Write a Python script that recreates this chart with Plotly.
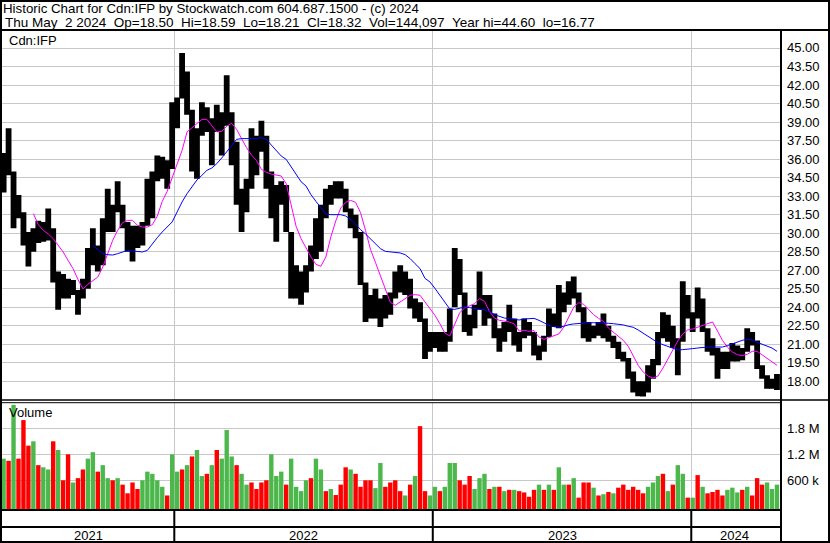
import pandas as pd
import plotly.graph_objects as go

# ---- weekly data (mid-week date of each trading week) ----
WEEKS = pd.date_range("2021-05-05", periods=157, freq="7D")

HIGH = [
    36.5, 38.5, 35.0, 33.1, 31.7, 30.1, 30.4, 31.0, 30.9, 32.0,
    30.4, 26.9, 26.7, 26.3, 26.2, 25.4, 26.3, 28.8, 30.4, 29.0,
    31.2, 33.6, 32.3, 34.2, 32.3, 30.9, 30.6, 30.6, 30.9, 34.4,
    35.0, 36.3, 36.2, 35.9, 40.6, 41.0, 44.6, 43.1, 40.0, 38.5,
    40.6, 40.2, 39.3, 40.4, 39.8, 42.8, 39.8, 37.4, 33.6, 34.4,
    38.5, 37.9, 39.1, 37.9, 35.0, 33.9, 34.2, 33.9, 30.1, 27.4,
    26.9, 27.4, 29.0, 31.2, 32.3, 33.6, 33.9, 34.2, 34.2, 33.6,
    32.0, 31.5, 30.1, 26.0, 25.0, 25.5, 24.7, 25.0, 25.2, 26.9,
    27.4, 26.9, 26.3, 24.7, 24.4, 23.1, 22.0, 22.0, 22.0, 22.0,
    23.9, 28.8, 27.9, 25.2, 23.4, 24.2, 26.9, 25.0, 25.0, 23.5,
    22.3, 22.8, 24.2, 23.1, 22.0, 23.1, 22.8, 22.0, 20.9, 21.7,
    23.9, 23.5, 25.8, 25.2, 26.1, 26.5, 25.2, 24.0, 22.8, 22.5,
    22.8, 23.5, 22.5, 21.7, 21.2, 20.4, 19.9, 18.8, 18.0, 18.0,
    19.3, 19.8, 22.0, 23.6, 23.4, 22.5, 21.5, 26.1, 25.0, 23.6,
    25.6, 24.7, 22.3, 21.5, 20.7, 20.4, 20.4, 21.1, 20.9, 20.7,
    22.3, 22.0, 21.3, 19.3, 18.5, 18.2, 18.59,
]

LOW = [
    33.3, 34.7, 30.4, 31.2, 29.0, 27.3, 28.5, 29.2, 29.3, 29.4,
    26.0, 23.8, 24.7, 24.7, 25.0, 23.4, 24.7, 25.5, 27.4, 26.9,
    27.4, 30.1, 30.1, 31.7, 30.4, 28.5, 27.7, 28.8, 29.0, 30.6,
    31.2, 34.2, 34.4, 33.6, 35.2, 38.5, 40.9, 39.6, 35.0, 34.4,
    37.9, 38.2, 35.5, 38.2, 36.3, 38.7, 35.5, 32.3, 30.1, 31.7,
    33.6, 34.7, 36.6, 33.6, 31.2, 29.3, 32.3, 30.1, 24.7, 24.7,
    24.2, 25.2, 26.9, 27.9, 28.5, 31.2, 32.3, 32.8, 32.8, 31.7,
    30.4, 29.6, 25.8, 22.8, 23.1, 23.1, 22.4, 23.1, 23.4, 24.7,
    25.2, 25.0, 23.9, 23.1, 22.8, 19.8, 20.4, 20.7, 20.4, 20.4,
    21.2, 24.0, 25.0, 22.0, 21.7, 22.3, 23.8, 22.5, 23.1, 21.5,
    20.4, 21.2, 22.0, 20.9, 20.4, 21.5, 21.7, 20.1, 19.7, 20.4,
    21.6, 22.4, 22.3, 23.6, 24.2, 24.7, 23.6, 21.5, 21.2, 21.5,
    21.7, 21.5, 21.2, 20.7, 19.8, 19.6, 18.2, 17.1, 16.8, 16.77,
    17.1, 18.2, 19.3, 21.5, 21.2, 20.7, 18.5, 21.2, 23.1, 22.0,
    23.1, 22.0, 20.4, 20.1, 18.2, 19.0, 19.0, 19.6, 19.6, 19.7,
    20.4, 20.9, 19.0, 18.2, 17.4, 17.4, 17.3,
]

# short (magenta) and long (blue) moving averages
MA_FAST = [None] * 6 + [
    31.58, 30.69, 30.23, 29.94, 29.56, 29.02, 28.48, 27.80, 27.13, 26.26,
    25.48, 25.86, 26.16, 26.45, 27.26, 28.34, 29.42, 30.23, 30.85, 31.04,
    31.04, 30.64, 30.50, 30.50, 30.69, 31.39, 32.58, 33.39, 34.50, 35.58,
    36.71, 38.20, 38.55, 38.82, 39.22, 39.22, 38.66, 38.20, 38.25, 38.66,
    38.90, 38.41, 37.66, 36.93, 36.33, 35.90, 35.17, 34.93, 34.79, 34.69,
    34.63, 34.01, 32.26, 30.56, 29.56, 28.83, 28.07, 27.48, 27.32, 28.07,
    29.69, 30.99, 32.04, 32.50, 32.66, 32.50, 31.66, 30.23, 28.69, 27.64,
    26.59, 25.45, 24.40, 24.16, 24.43, 24.70, 24.97, 25.02, 24.97, 24.43,
    23.89, 23.35, 22.67, 21.92, 21.67, 22.59, 23.56, 23.94, 24.10, 24.29,
    24.70, 24.48, 23.67, 23.13, 22.94, 22.86, 22.81, 22.65, 22.08, 22.13,
    22.05, 22.11, 21.59, 21.40, 21.54, 21.73, 21.84, 22.40, 23.16, 24.00,
    24.37, 24.24, 23.83, 23.40, 23.10, 22.86, 22.32, 22.00, 21.67, 21.32,
    20.84, 20.05, 19.30, 18.76, 18.43, 18.27, 18.43, 19.08, 19.84, 20.59,
    21.27, 21.84, 22.16, 22.24, 22.38, 22.51, 22.67, 22.81, 22.08, 21.32,
    20.78, 20.38, 20.16, 20.08, 20.19, 20.43, 20.43, 20.14, 19.86, 19.60,
    19.30,
]

MA_SLOW = [None] * 18 + [
    29.02, 28.69, 28.34, 28.26, 28.23, 28.34, 28.48, 28.61, 28.56, 28.50,
    28.48, 28.61, 29.15, 29.64, 30.10, 30.53, 30.91, 31.72, 32.53, 33.20,
    33.74, 34.31, 34.69, 35.09, 35.28, 35.63, 36.09, 36.58, 37.12, 37.60,
    37.66, 37.66, 37.66, 37.66, 37.74, 37.60, 37.14, 36.66, 36.25, 35.98,
    35.39, 34.74, 34.17, 33.82, 33.12, 32.58, 32.04, 31.55, 31.50, 31.50,
    31.50, 31.39, 31.12, 30.74, 30.29, 29.94, 29.53, 29.13, 28.75, 28.53,
    28.48, 28.42, 28.40, 28.26, 27.94, 27.53, 27.13, 26.34, 26.05, 25.53,
    25.00, 24.46, 23.86, 23.83, 23.94, 24.02, 23.97, 23.89, 23.83, 23.81,
    23.67, 23.40, 23.27, 23.13, 23.08, 23.00, 22.97, 23.05, 23.10, 23.10,
    22.94, 22.75, 22.54, 22.43, 22.38, 22.46, 22.59, 22.65, 22.70, 22.73,
    22.75, 22.75, 22.75, 22.73, 22.70, 22.67, 22.65, 22.57, 22.46, 22.38,
    22.16, 21.92, 21.65, 21.40, 21.13, 20.97, 20.81, 20.65, 20.54, 20.57,
    20.59, 20.65, 20.70, 20.76, 20.78, 20.78, 20.78, 20.78, 20.89, 21.05,
    21.19, 21.32, 21.40, 21.35, 21.16, 21.00, 20.86, 20.70, 20.43,
]

# typical daily volume within each week (shares)
VOLUME = [
    1.10e6, 1.05e6, 2.34e6, 1.10e6, 1.99e6, 1.40e6, 1.50e6, 0.95e6, 0.90e6, 0.85e6,
    1.50e6, 1.30e6, 0.60e6, 1.20e6, 0.55e6, 0.65e6, 0.85e6, 1.10e6, 1.25e6, 0.80e6,
    0.95e6, 0.65e6, 0.60e6, 0.65e6, 0.50e6, 0.30e6, 0.55e6, 0.40e6, 0.60e6, 0.80e6,
    0.75e6, 0.60e6, 0.45e6, 0.25e6, 1.20e6, 0.80e6, 0.85e6, 0.95e6, 1.15e6, 1.30e6,
    0.70e6, 0.75e6, 0.95e6, 1.30e6, 1.10e6, 1.76e6, 1.15e6, 0.95e6, 0.75e6, 0.50e6,
    0.55e6, 0.40e6, 0.55e6, 0.60e6, 1.20e6, 0.70e6, 0.80e6, 0.50e6, 1.10e6, 0.45e6,
    0.35e6, 0.60e6, 0.65e6, 1.10e6, 0.85e6, 0.35e6, 0.40e6, 0.26e6, 0.50e6, 0.90e6,
    0.85e6, 0.75e6, 0.45e6, 0.60e6, 0.60e6, 0.42e6, 1.00e6, 0.45e6, 0.55e6, 0.60e6,
    0.35e6, 0.25e6, 0.50e6, 0.70e6, 1.85e6, 0.35e6, 0.25e6, 0.45e6, 0.35e6, 0.45e6,
    1.00e6, 1.00e6, 0.60e6, 0.50e6, 0.70e6, 0.40e6, 0.65e6, 0.75e6, 0.40e6, 0.45e6,
    0.45e6, 0.35e6, 0.38e6, 0.38e6, 0.35e6, 0.32e6, 0.22e6, 0.38e6, 0.50e6, 0.38e6,
    0.50e6, 0.38e6, 0.90e6, 0.50e6, 0.50e6, 0.65e6, 0.20e6, 0.55e6, 0.55e6, 0.43e6,
    0.25e6, 0.28e6, 0.33e6, 0.30e6, 0.43e6, 0.50e6, 0.38e6, 0.45e6, 0.38e6, 0.30e6,
    0.45e6, 0.55e6, 0.70e6, 0.75e6, 0.35e6, 0.50e6, 0.95e6, 0.75e6, 0.20e6, 0.20e6,
    0.72e6, 0.45e6, 0.30e6, 0.33e6, 0.38e6, 0.25e6, 0.38e6, 0.43e6, 0.32e6, 0.38e6,
    0.45e6, 0.25e6, 0.65e6, 0.50e6, 0.55e6, 0.40e6, 0.50e6,
]

# U = up week, D = down week
DIRECTION = (
    "UDUDDDUDUU" "DUDDUDDUUD" "UUDUDDDDUU" "UUUDUUDUDU"
    "UDUDUUUDUU" "DDDDUUUDUU" "UUDUUDUDDD" "UDDDDUUDDD"
    "DUDUDDUUDU" "UUDDDUUUDU" "DUDUDDDDUD" "UDUUDUDDDU"
    "DUDUDDDDDD" "UUUDUDUUDU" "DUDDDDUUUD" "UDDDUUU"
)

PRICE_TICKS = [18.0, 19.5, 21.0, 22.5, 24.0, 25.5, 27.0, 28.5, 30.0, 31.5,
               33.0, 34.5, 36.0, 37.5, 39.0, 40.5, 42.0, 43.5, 45.0]
VOLUME_TICKS = [600_000, 1_200_000, 1_800_000]
VOLUME_TICK_TEXT = ["600 k", "1.2 M", "1.8 M"]
YEAR_STARTS = ["2022-01-01", "2023-01-01", "2024-01-01"]
YEARS = ["2021", "2022", "2023", "2024"]

TITLE_1 = "Historic Chart for Cdn:IFP by Stockwatch.com 604.687.1500 - (c) 2024"
TITLE_2 = ("Thu May\u00a0\u00a02 2024\u00a0\u00a0Op=18.50\u00a0\u00a0Hi=18.59\u00a0\u00a0"
           "Lo=18.21\u00a0\u00a0Cl=18.32\u00a0\u00a0Vol=144,097\u00a0\u00a0"
           "Year hi=44.60\u00a0\u00a0lo=16.77")

# ---- canvas geometry (pixels) ----
W, H = 830, 543
FONT = "Arial, 'Liberation Sans', sans-serif"
GRID = "#c8c8c8"
UP_COLOR, DOWN_COLOR = "#4cb84c", "#ff0000"
DAY_MS = 86_400_000


def px(x):
    return x / W


def py(y):
    return 1 - y / H


X_RANGE = ["2021-05-02 17:00", "2024-05-05 07:00"]
PRICE_RANGE = [16.529, 46.377]
VOL_RANGE = [-62_300, 2_384_000]
VOL_FLOOR = VOL_RANGE[0]

fig = go.Figure()

# weekly high-low bars, slightly overlapping so the band has no seams
fig.add_trace(go.Bar(
    x=WEEKS, y=[h - l for h, l in zip(HIGH, LOW)], base=LOW,
    width=8.2 * DAY_MS, marker=dict(color="black", line=dict(width=0)),
    xaxis="x", yaxis="y", hoverinfo="skip",
))
fig.add_trace(go.Scatter(
    x=WEEKS, y=MA_FAST, mode="lines", line=dict(color="#ff00ff", width=1),
    xaxis="x", yaxis="y",
))
fig.add_trace(go.Scatter(
    x=WEEKS, y=MA_SLOW, mode="lines", line=dict(color="#0000ff", width=1),
    xaxis="x", yaxis="y",
))

vol_colors = [UP_COLOR if d == "U" else DOWN_COLOR for d in DIRECTION]
fig.add_trace(go.Bar(
    x=WEEKS, y=[v - VOL_FLOOR for v in VOLUME], base=VOL_FLOOR,
    width=6.2 * DAY_MS, marker=dict(color=vol_colors, line=dict(width=0)),
    xaxis="x2", yaxis="y2", hoverinfo="skip",
))

x_domain = [px(2), px(780)]
axis_common = dict(showline=False, zeroline=False, ticks="", showticklabels=False)

fig.update_layout(
    width=W, height=H, margin=dict(l=0, r=0, t=0, b=0, pad=0),
    paper_bgcolor="white", plot_bgcolor="white", showlegend=False,
    barmode="overlay",
    xaxis=dict(domain=x_domain, range=X_RANGE, type="date", anchor="y",
               tickvals=YEAR_STARTS, showgrid=True, gridcolor=GRID, gridwidth=1,
               **axis_common),
    xaxis2=dict(domain=x_domain, range=X_RANGE, type="date", anchor="y2",
                matches="x", tickvals=YEAR_STARTS, showgrid=True, gridcolor=GRID,
                gridwidth=1, **axis_common),
    yaxis=dict(domain=[py(399.5), py(31)], range=PRICE_RANGE, anchor="x",
               tickvals=PRICE_TICKS, showgrid=True, gridcolor=GRID, gridwidth=1,
               **axis_common),
    yaxis2=dict(domain=[py(509), py(403)], range=VOL_RANGE, anchor="x2",
                tickvals=VOLUME_TICKS, showgrid=True, gridcolor=GRID, gridwidth=1,
                **axis_common),
)

annotations = []


def text(x, y, s, size=13, xanchor="left", xref="paper", yref="paper"):
    annotations.append(dict(
        x=x, y=y, xref=xref, yref=yref, text=s, showarrow=False,
        xanchor=xanchor, yanchor="middle", borderpad=0,
        font=dict(family=FONT, size=size, color="black"),
    ))


text(px(2), py(9), TITLE_1, size=13.3)
text(px(4), py(22), TITLE_2, size=13.5)
text(px(8), py(40), "Cdn:IFP")
text(px(8), py(413), "Volume")

for v in PRICE_TICKS:
    text(px(786), v, f"{v:.2f}", yref="y")
for v, s in zip(VOLUME_TICKS, VOLUME_TICK_TEXT):
    text(px(786), v, s, yref="y2")

# year labels centred on the visible part of each year
bounds = [WEEKS[0] - pd.Timedelta(days=2)] + [pd.Timestamp(d) for d in YEAR_STARTS] \
    + [WEEKS[-1] + pd.Timedelta(days=1)]
for i, year in enumerate(YEARS):
    mid = bounds[i] + (bounds[i + 1] - bounds[i]) / 2
    text(mid, py(535), year, xanchor="center", xref="x")

fig.update_layout(annotations=annotations)

# ---- frame lines ----
shapes = []


def hline(y, x0, x1, w=2):
    shapes.append(dict(type="line", xref="paper", yref="paper",
                       x0=px(x0), x1=px(x1), y0=py(y), y1=py(y),
                       line=dict(color="black", width=w)))


def vline(x, y0, y1, w=2, xref="paper"):
    shapes.append(dict(type="line", xref=xref, yref="paper",
                       x0=x if xref != "paper" else px(x),
                       x1=x if xref != "paper" else px(x),
                       y0=py(y0), y1=py(y1),
                       line=dict(color="black", width=w)))


hline(1, 0, W)            # top border
hline(30, 0, W)           # under the title
hline(400, 0, W, 1.5)     # price / volume split
hline(402.7, 0, 781, 1)
hline(510, 0, 781)        # below volume
hline(527, 0, 781)        # between the two date rows
hline(542, 0, W)          # bottom border
vline(1, 0, H)            # left border
vline(829, 0, H)          # right border
vline(781, 30, H)         # right axis column
for d in YEAR_STARTS:
    vline(d, 510, 542, xref="x")

fig.update_layout(shapes=shapes)

fig.write_html("out.html")
